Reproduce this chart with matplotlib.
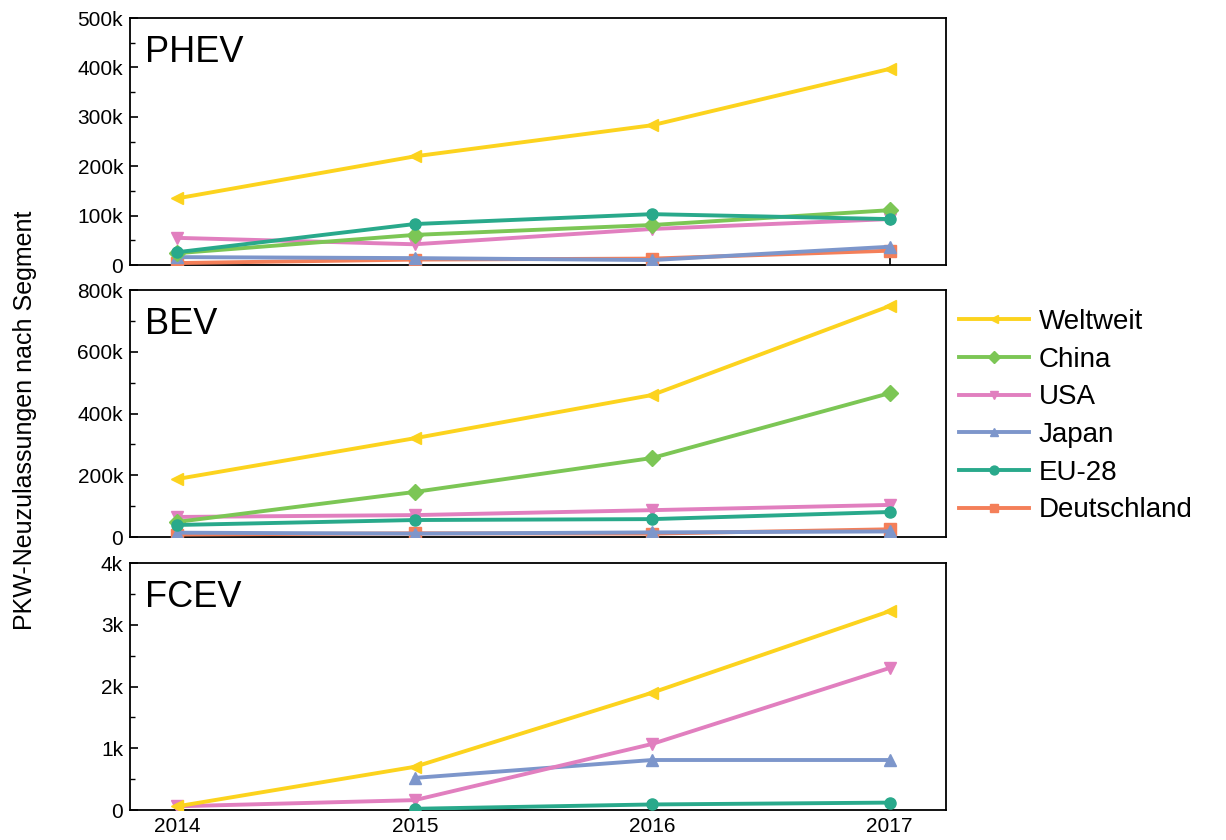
import numpy as np
import matplotlib.pyplot as plt
from matplotlib.ticker import FuncFormatter, MultipleLocator

plt.rcParams['font.family'] = ['Liberation Sans', 'DejaVu Sans']

years = [2014, 2015, 2016, 2017]
nan = np.nan

# PHEV
phev = {
    'Weltweit': [135000, 220000, 283000, 397000],
    'China': [24000, 61000, 81000, 111000],
    'USA': [55000, 42000, 73000, 93000],
    'Japan': [16000, 14000, 10000, 37000],
    'EU-28': [26000, 83000, 103000, 93000],
    'Deutschland': [4000, 11000, 13000, 29000],
}
# BEV
bev = {
    'Weltweit': [188000, 320000, 460000, 748000],
    'China': [49000, 146000, 256000, 466000],
    'USA': [65000, 71000, 87000, 104000],
    'Japan': [14000, 11000, 15000, 18000],
    'EU-28': [39000, 55000, 58000, 81000],
    'Deutschland': [8000, 12000, 11000, 25000],
}
# FCEV
fcev = {
    'Weltweit': [60, 700, 1900, 3220],
    'China': [nan, nan, nan, nan],
    'USA': [60, 160, 1070, 2300],
    'Japan': [nan, 520, 810, 810],
    'EU-28': [nan, 20, 90, 120],
    'Deutschland': [nan, nan, nan, nan],
}

series = ['Weltweit', 'China', 'USA', 'Japan', 'EU-28', 'Deutschland']
colors = {'Weltweit': '#fcd31e', 'China': '#7cc655', 'USA': '#e17fbf',
          'Japan': '#7d96cb', 'EU-28': '#29a98b', 'Deutschland': '#f47f59'}
markers = {'Weltweit': '<', 'China': 'D', 'USA': 'v', 'Japan': '^',
           'EU-28': 'o', 'Deutschland': 's'}
# draw order: Deutschland at the back
order = ['Deutschland', 'Japan', 'USA', 'China', 'EU-28', 'Weltweit']

panels = [('PHEV', phev, 500000, 100000), ('BEV', bev, 800000, 200000),
          ('FCEV', fcev, 4000, 1000)]

fig = plt.figure(figsize=(12.26, 8.40), dpi=100)
bottoms = [0.6845, 0.3607, 0.0357]
axes = []
for (name, data, ymax, step), b in zip(panels, bottoms):
    ax = fig.add_axes([0.106, b, 0.666, 0.294])
    for s in order:
        ax.plot(years, data[s], color=colors[s], marker=markers[s],
                lw=2.8, ms=8, label=s, zorder=3)
    ax.set_xlim(2013.80, 2017.24)
    ax.set_ylim(0, ymax)
    ax.yaxis.set_major_locator(MultipleLocator(step))
    ax.yaxis.set_minor_locator(MultipleLocator(step / 2))
    ax.yaxis.set_major_formatter(FuncFormatter(
        lambda v, p: '0' if v == 0 else '%dk' % round(v / 1000)))
    ax.set_xticks(years)
    ax.tick_params(axis='both', which='both', direction='in', labelsize=15)
    ax.tick_params(which='major', length=6, width=1.2, pad=5)
    ax.tick_params(which='minor', length=3.5, width=1.0)
    for sp in ax.spines.values():
        sp.set_linewidth(1.3)
    ax.text(0.018, 0.93, name, transform=ax.transAxes, fontsize=26,
            va='top', ha='left')
    if b != bottoms[-1]:
        ax.tick_params(axis='x', labelbottom=False)
    axes.append(ax)

handles, labels = axes[0].get_legend_handles_labels()
hmap = dict(zip(labels, handles))
fig.legend([hmap[s] for s in series], series, loc='upper left',
           bbox_to_anchor=(0.762, 0.662), frameon=False, fontsize=20,
           handlelength=2.5, handletextpad=0.35, labelspacing=0.42,
           markerscale=0.8)

fig.text(0.02, 0.5, 'PKW-Neuzulassungen nach Segment', rotation=90,
         va='center', ha='center', fontsize=18)

fig.savefig('out.png', dpi=100)
